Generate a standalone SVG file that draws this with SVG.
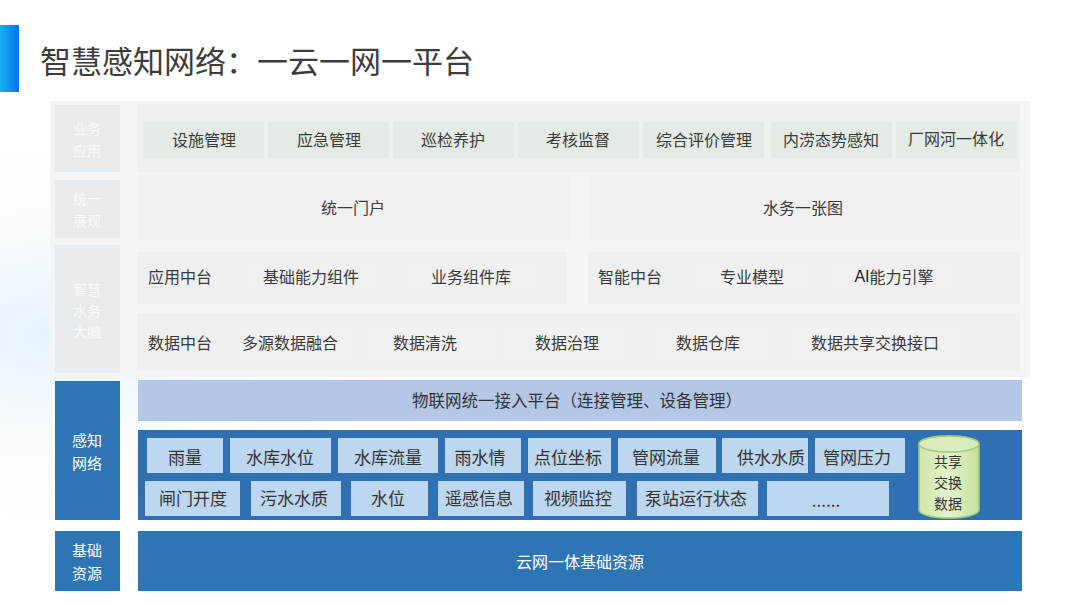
<svg xmlns="http://www.w3.org/2000/svg" width="1080" height="607" viewBox="0 0 1080 607">
<defs>
<linearGradient id="bar" x1="0" y1="0" x2="1" y2="0"><stop offset="0" stop-color="#17b4f2"/><stop offset="1" stop-color="#0a6fe8"/></linearGradient>
<radialGradient id="bgl" cx="0.05" cy="0.55" r="0.35"><stop offset="0" stop-color="#e4f2fb"/><stop offset="1" stop-color="#ffffff" stop-opacity="0"/></radialGradient>
<linearGradient id="cyl" x1="0" y1="0" x2="1" y2="0"><stop offset="0" stop-color="#cfe6a8"/><stop offset="0.5" stop-color="#e4f2cc"/><stop offset="1" stop-color="#c6df9c"/></linearGradient>
<style>
text{font-family:"Noto Sans CJK SC","Liberation Sans",sans-serif;text-anchor:middle;dominant-baseline:central}
.up{font-size:16px;fill:#3a3a3a}
.lbl{font-size:14px;fill:#f7f9fa}
.cellU{fill:#e7ebed}
.bx{fill:#e4eae4}
.gx{fill:#f0f0f0}
.lo{font-size:17px;fill:#333}
.lb{fill:#bdd7ee}
.wh{font-size:15px;fill:#ffffff}
.dk{fill:#2e75b6}
.cy{font-size:14px;fill:#333}
</style>
</defs>
<rect width="1080" height="607" fill="#ffffff"/>
<rect width="1080" height="607" fill="url(#bgl)"/>
<g id="title">
<rect x="0" y="25" width="19" height="67" fill="url(#bar)"/>
<text x="40" y="59" style="font-size:31px;fill:#3c3c3c;text-anchor:start">智慧感知网络：一云一网一平台</text>
</g>
<rect x="50" y="101" width="980" height="276" fill="#f3f4f3"/>
<g id="yewu">
<rect class="cellU" x="55" y="105" width="65" height="67"/>
<text class="lbl" x="87" y="128">业务</text><text class="lbl" x="87" y="150">应用</text>
<rect x="137" y="104" width="883" height="68" fill="#edf0ed"/>
<rect class="bx" x="143" y="122" width="121" height="36"/><text class="up" x="204" y="139">设施管理</text>
<rect class="bx" x="268" y="122" width="121" height="36"/><text class="up" x="329" y="139">应急管理</text>
<rect class="bx" x="393" y="122" width="121" height="36"/><text class="up" x="453" y="139">巡检养护</text>
<rect class="bx" x="518" y="122" width="121" height="36"/><text class="up" x="578" y="139">考核监督</text>
<rect class="bx" x="643" y="122" width="121" height="36"/><text class="up" x="704" y="139">综合评价管理</text>
<rect class="bx" x="771" y="122" width="121" height="36"/><text class="up" x="831" y="139">内涝态势感知</text>
<rect class="bx" x="896" y="122" width="121" height="36"/><text class="up" x="956" y="138">厂网河一体化</text>
</g>
<g id="zhanxian">
<rect class="cellU" x="55" y="180" width="65" height="58"/>
<text class="lbl" x="87" y="198">统一</text><text class="lbl" x="87" y="220">展现</text>
<rect x="137" y="176" width="434" height="64" fill="#f0f0f0"/>
<rect x="591" y="176" width="429" height="64" fill="#f0f0f0"/>
<text class="up" x="353" y="207">统一门户</text>
<text class="up" x="803" y="207">水务一张图</text>
</g>
<g id="danao">
<rect class="cellU" x="55" y="245" width="65" height="128"/>
<text class="lbl" x="87" y="289">智慧</text><text class="lbl" x="87" y="310">水务</text><text class="lbl" x="87" y="331">大脑</text>
<rect x="137" y="252" width="430" height="52" fill="#efefef"/>
<rect x="588" y="252" width="432" height="52" fill="#efefef"/>
<text class="up" x="180" y="276">应用中台</text>
<rect class="gx" x="247" y="259" width="129" height="35"/><text class="up" x="311" y="276">基础能力组件</text>
<rect class="gx" x="406" y="259" width="132" height="35"/><text class="up" x="471" y="276">业务组件库</text>
<text class="up" x="630" y="276">智能中台</text>
<rect class="gx" x="697" y="259" width="117" height="35"/><text class="up" x="752" y="276">专业模型</text>
<rect class="gx" x="833" y="259" width="124" height="35"/><text class="up" x="894" y="276"><tspan style="font-family:'Liberation Sans',sans-serif;fill:#222">AI</tspan>能力引擎</text>
<rect x="137" y="313" width="883" height="58" fill="#efefef"/>
<text class="up" x="180" y="342">数据中台</text>
<rect class="gx" x="238" y="324" width="114" height="38"/><text class="up" x="290" y="342">多源数据融合</text>
<rect class="gx" x="369" y="324" width="126" height="38"/><text class="up" x="425" y="342">数据清洗</text>
<rect class="gx" x="502" y="324" width="124" height="38"/><text class="up" x="567" y="342">数据治理</text>
<rect class="gx" x="650" y="324" width="124" height="38"/><text class="up" x="708" y="342">数据仓库</text>
<rect class="gx" x="793" y="324" width="166" height="38"/><text class="up" x="875" y="342">数据共享交换接口</text>
</g>
<g id="ganzhi">
<rect class="dk" x="55" y="381" width="65" height="139"/>
<text class="wh" x="87" y="439">感知</text><text class="wh" x="87" y="462">网络</text>
<rect x="138" y="380" width="884" height="41" fill="#b4c7e7"/>
<text x="577" y="400" style="font-size:16.5px;fill:#333">物联网统一接入平台（连接管理、设备管理）</text>
<rect x="138" y="430" width="884" height="90" fill="#2e70b1"/>
<rect class="lb" x="147" y="438" width="76" height="35"/><text class="lo" x="185" y="456">雨量</text>
<rect class="lb" x="230" y="438" width="101" height="35"/><text class="lo" x="280" y="456">水库水位</text>
<rect class="lb" x="338" y="438" width="100" height="35"/><text class="lo" x="388" y="456">水库流量</text>
<rect class="lb" x="445" y="438" width="76" height="35"/><text class="lo" x="480" y="456">雨水情</text>
<rect class="lb" x="528" y="438" width="83" height="35"/><text class="lo" x="568" y="456">点位坐标</text>
<rect class="lb" x="618" y="438" width="98" height="35"/><text class="lo" x="666" y="456">管网流量</text>
<rect class="lb" x="722" y="438" width="86" height="35"/><text class="lo" x="771" y="456">供水水质</text>
<rect class="lb" x="815" y="438" width="90" height="35"/><text class="lo" x="857" y="456">管网压力</text>
<rect class="lb" x="145" y="481" width="95" height="35"/><text class="lo" x="193" y="497">闸门开度</text>
<rect class="lb" x="251" y="481" width="90" height="35"/><text class="lo" x="294" y="497">污水水质</text>
<rect class="lb" x="351" y="481" width="77" height="35"/><text class="lo" x="388" y="497">水位</text>
<rect class="lb" x="438" y="481" width="86" height="35"/><text class="lo" x="479" y="497">遥感信息</text>
<rect class="lb" x="533" y="481" width="93" height="35"/><text class="lo" x="578" y="497">视频监控</text>
<rect class="lb" x="637" y="481" width="121" height="35"/><text class="lo" x="696" y="497">泵站运行状态</text>
<rect class="lb" x="767" y="481" width="122" height="35"/><text class="lo" x="826" y="499">......</text>
<path d="M919 444 A30 8 0 0 1 979 444 V510 A30 8 0 0 1 919 510 Z" fill="url(#cyl)" stroke="#a3c77f" stroke-width="1.5"/>
<ellipse cx="949" cy="444" rx="30" ry="8" fill="#d9ecbd" stroke="#a3c77f" stroke-width="1.5"/>
<text class="cy" x="948" y="461">共享</text>
<text class="cy" x="948" y="482">交换</text>
<text class="cy" x="948" y="503">数据</text>
</g>
<g id="jichu">
<rect class="dk" x="55" y="531" width="65" height="60"/>
<text class="wh" x="87" y="549">基础</text><text class="wh" x="87" y="572">资源</text>
<rect class="dk" x="138" y="531" width="884" height="60"/>
<text class="wh" x="580" y="561" style="font-size:16px">云网一体基础资源</text>
</g>
<g id="connectors"/>
</svg>
